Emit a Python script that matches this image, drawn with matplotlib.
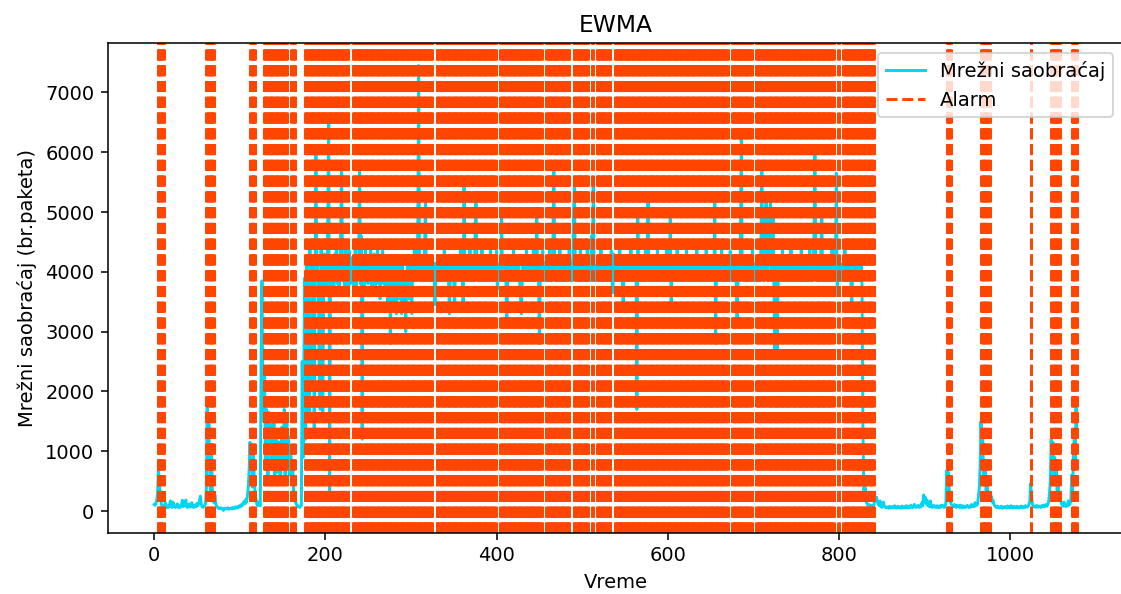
import numpy as np
import matplotlib
matplotlib.use('Agg')
import matplotlib.pyplot as plt

# mrezni saobracaj (br. paketa) po vremenskim trenucima, procitano sa slike
seg_start = [110, 95, 120, 180, 300, 680, 520, 300, 150, 90,
             70, 60, 85, 140, 70, 55, 90, 65, 100, 170,
             80, 60, 150, 95, 70, 60, 80, 120, 70, 55,
             90, 65, 110, 180, 75, 160, 90, 185, 70, 60,
             95, 120, 65, 80, 140, 70, 60, 100, 85, 70,
             130, 90, 110, 170, 250, 110, 75, 60, 80, 95,
             120]
seg_spike1 = [380, 1720, 900, 1450, 600, 250, 1100, 300, 180, 140]
seg_low1 = [270, 120, 80, 60, 45, 50, 40, 55, 35, 40,
            10, 45, 50, 35, 40, 55, 30, 45, 40, 50,
            35, 60, 45, 40, 70, 55, 50, 80, 65, 90,
            70, 110, 95, 130, 160, 120, 190, 150, 260, 400,
            700]
seg_spike2 = [1150, 700, 950, 400, 1000, 550, 300]
seg_rise = [200, 120, 90, 150, 110, 90, 2600, 3850, 1800]
seg_mid = [1500, 2300, 800, 1700, 1300, 600, 1650, 1100, 1450, 900,
           700, 1200, 1500, 550, 1000, 1300, 650, 800, 1150, 500,
           700, 1400, 900, 1200, 1700, 600, 1000, 1500, 800, 1250,
           600, 1100, 900, 450, 700, 300, 200]
seg_low2 = [150, 120, 90, 70, 85, 60, 75, 90]
high_a = [2500, 900, 2600, 3900, 1200, 4200, 2800, 3700, 1500, 4400,
          3300, 2100, 4100, 3600, 1300, 3900, 6000,
          3900, 4200, 3500, 2200, 1700, 4400, 3800, 1600, 3600, 4300,
          3850, 4100, 3700, 5100, 6550, 350, 3900, 4200, 3800, 4100,
          3700, 4300, 3900, 4500, 3800, 4150, 3650, 4100, 4700, 5800,
          4200, 3850, 4100, 3700, 4400, 3900, 4050, 3600, 4350, 3800,
          4150, 3850, 4250, 3700, 4000, 4450, 3750, 4100, 3900, 4300,
          5750, 3800, 4600, 1200, 3900, 4150, 3700, 4400, 3850, 4100,
          3800, 4250, 3900, 4450, 3700, 4100, 3850, 4300, 3600, 4050,
          3800, 4400, 3850, 4100, 3550, 4150, 3850, 4350, 3800, 4100,
          3600, 3900, 4150, 3400, 3850, 4100, 2800, 3900, 4100, 3350,
          3850, 4150, 3850, 3300, 4100, 3850, 3550, 4150, 3850, 3300,
          4100, 3850, 3400, 3850, 3000, 3850, 4150, 3850, 3550, 4100,
          3850, 3300, 4150, 3850, 4400, 3850, 4150, 3850, 4700, 7450,
          4100, 3850, 4150, 3850, 4150, 3850, 4400, 5200, 3850, 4150,
          3850, 4100, 3850, 4150, 3850, 4100, 3850, 4150, 3450, 3850,
          4150, 3850, 4100, 3850]
high_b = [3850, 4150, 3850, 4100, 3850, 4400, 3850, 4150, 3850, 4100,
          3850, 3300, 3850, 4150, 3850, 4100, 3850, 3350, 4150, 3850,
          4100, 3850, 4150, 3850, 4400, 3850, 4100, 3350, 5500, 4150,
          3850, 4100, 3850, 4150, 3850, 4400, 3850, 4100, 3850, 4150,
          3850, 4650, 5200, 4150, 3850, 4100, 3850, 4150, 3850, 4400,
          3850, 4100, 3850, 4150, 3850, 4100, 3850, 4150, 3850, 4400,
          4100, 3850, 4150, 3850, 4100, 3850, 4350, 3700, 4100, 3850,
          4150, 3850, 4950, 3850, 4100, 3850, 4150, 3850, 3100, 3850,
          4150, 3850, 4100, 3850, 4150, 3850, 4400, 3850, 4100, 3850,
          4150, 3850, 4100, 3850, 3600, 3300, 3850, 4150, 3850, 4100,
          3850, 4400, 3850, 4150, 3850, 4100, 3850, 4150, 3850, 4400,
          3850, 4100, 3850, 4950, 3850, 4150, 2800, 3850, 4100, 3850,
          4350, 3850, 4150, 3850, 4100, 3850, 4150, 3850, 4400, 3850,
          4100, 3850, 4600, 5750, 4100, 3850, 4150, 3850, 4100, 3850,
          4400, 3850, 4150, 3850, 4100, 3850, 4150, 3850, 4100, 3850,
          4150, 4400, 3850, 4150, 3850, 4100, 5000, 5480, 4100, 3850,
          4150, 3850, 4100, 3850, 4400, 3850, 4150, 3850, 4100, 3850,
          4150, 3850, 4400, 3850, 4100, 3850, 4150, 4600, 3850, 5480,
          4150, 3850, 4100, 3850, 4150, 3850, 4100, 3850, 4400, 3850,
          4150, 3850, 4100, 3850, 4150, 3850, 4100, 3850, 4150, 3850,
          4350, 3850, 3650, 4300, 4150, 3850, 4100, 3850, 4150, 3850,
          4400, 3850, 4100, 3850, 3350, 4150, 3850, 4100, 3850, 4150,
          3850, 4100, 3850, 4400, 3850, 4150, 3850, 4100, 3850, 4150,
          1700, 4950, 4100, 3850, 4150, 3850, 4100, 3850, 4150, 3850,
          4400, 3850, 4100, 5200, 3850, 4150, 3850, 4100, 3850]
high_c = [3850, 4150, 3850, 4100, 3850, 4400, 3850, 4150, 3850, 4100,
          3850, 4150, 3850, 4100, 3850, 4150, 4400, 3850, 4100, 3850,
          4950, 3350, 4150, 3850, 4100, 3850, 4150, 3850, 4400, 3850,
          4100, 3850, 4150, 3850, 4100, 3850, 4150, 3850, 4100, 4400,
          3850, 4150, 3850, 4100, 3850, 4150, 3850, 4100, 3850, 4150,
          3850, 4400, 3850, 4100, 3850, 4150, 3850, 4100, 3850, 4150,
          3850, 4100, 4400, 3850, 4150, 3850, 4100, 3850, 4150, 3850,
          4100, 3850, 5200, 2800, 4100, 3850, 4150, 3850, 4100, 3850,
          4400, 3850, 4100, 3850, 4150, 3850, 4100, 3850, 4150, 3850,
          4350, 3850, 4100, 3850, 4150, 3850, 4100, 3850, 3100, 3850,
          4150, 3850, 4400, 6300, 4100, 3850, 4150, 3850, 4100, 3850,
          4150, 3850, 4100, 3850, 4150, 3850, 4400, 3850, 4100, 3850,
          4150, 3850, 4100, 3850, 4150, 3850, 4600, 5760, 4100, 3850,
          4150, 4950, 5200, 4100, 3850, 4950, 4150, 5200, 3850, 4100,
          4950, 3850, 2550, 3100, 4150, 2600, 3850, 4100, 3850, 4150,
          3850, 4400, 3850, 4100, 3850, 4150, 3850, 4100, 3850, 4150,
          3850, 4400, 3850, 4100, 3850, 4150, 3850, 4100, 3850, 4150,
          3850, 4100, 3850, 4400, 3850, 4150, 3850, 4100, 3850, 4150,
          3850, 4100, 3850, 4400, 3850, 4150, 3850, 4100, 4700, 6040,
          4100, 3850, 4150, 3850, 4100, 3850, 4400, 4950, 3850, 4150,
          3850, 4100, 3850, 4150, 3850, 4100, 3850, 4150, 3850, 4400,
          3850, 4100, 3850, 4150, 5650, 3600, 4100, 3850, 4150, 3850,
          4100, 3850, 4150, 3850, 4400, 3850, 4100, 3850, 4150, 3850,
          4100, 3850, 3350, 4100, 3850, 4150, 3850, 4100, 3850, 4150,
          3850, 4100, 3850, 4150, 3800, 1500, 350, 400, 380, 150,
          120, 90, 110, 80, 70, 95, 60, 85, 100, 240]
seg_tail1 = [180, 230, 150, 120, 90, 170, 75, 60, 100, 150,
             80, 65, 55, 70, 60, 45, 80, 65, 50, 75,
             60, 55, 90, 70, 50, 65, 80, 55, 60, 70,
             45, 85, 60, 55, 75, 60, 90, 65, 50, 80,
             60, 100, 70, 55, 65, 110, 75, 60, 85, 70,
             95, 60, 80, 70, 140, 90, 270, 150, 230, 120,
             180, 90, 110, 70, 170, 85, 60, 75, 95, 65,
             80, 60, 90, 70, 55, 85, 65, 100, 75, 90,
             60, 80, 140]
seg_spike3 = [680, 420, 650, 300, 180, 120, 100]
seg_tail2 = [90, 70, 110, 80, 60, 95, 75, 85, 60, 100,
             70, 55, 90, 65, 80, 60, 75, 95, 70, 60,
             85, 65, 110, 75, 90, 70, 140, 100, 95, 120,
             250, 380, 760]
seg_spike4 = [1500, 900, 1250, 600, 450, 800, 350, 520, 300, 230, 260]
seg_tail3 = [200, 250, 150, 180, 120, 90, 75, 60, 85, 65,
             50, 70, 60, 80, 45, 65, 55, 75, 60, 50,
             85, 60, 70, 55, 90, 65, 50, 75, 60, 70,
             55, 80, 65, 50, 70, 60, 85, 65, 55, 75,
             60, 90, 70, 65, 80, 110, 160]
seg_spike5 = [460, 250]
seg_tail4 = [120, 90, 70, 80, 60, 95, 75, 65, 85, 70,
             60, 90, 75, 100, 70, 85, 110, 80, 120, 150,
             300, 500]
seg_spike6 = [1200, 800, 1150, 600, 900, 450, 700, 350, 550, 250, 300]
seg_tail5 = [180, 120, 100, 80, 150, 95, 75, 110, 85, 170, 100, 120, 180]
seg_spike7 = [600, 350, 900, 1300, 700, 1720, 1250]

traffic = np.array(seg_start + seg_spike1 + seg_low1 + seg_spike2 + seg_rise
                   + seg_mid + seg_low2 + high_a + high_b + high_c
                   + seg_tail1 + seg_spike3 + seg_tail2 + seg_spike4
                   + seg_tail3 + seg_spike5 + seg_tail4 + seg_spike6
                   + seg_tail5 + seg_spike7)

# trenuci u kojima je EWMA javio alarm (od, do)
alarm_ranges = [(4, 11), (61, 70), (112, 118), (128, 155), (160, 164),
                (176, 227), (232, 325), (330, 399), (404, 453), (458, 485),
                (490, 507), (512, 513), (517, 533), (538, 670), (675, 698),
                (703, 794), (799, 800), (805, 841), (926, 931), (966, 976),
                (1024, 1025), (1048, 1058), (1072, 1078)]
alarms = [i for a, b in alarm_ranges for i in range(a, b + 1)]

fig = plt.figure(figsize=(1121 / 140, 594 / 140), dpi=140)
ax = fig.add_axes([108 / 1121, 61.3 / 594, 1015 / 1121, 489.4 / 594])

ax.plot(np.arange(len(traffic)), traffic, color='#00d5f2', label='Mrežni saobraćaj')
for k, a in enumerate(alarms):
    ax.axvline(x=a, color='orangered', linestyle='--', linewidth=1.53,
               label='Alarm' if k == 0 else None)

ax.set_title('EWMA')
ax.set_xlabel('Vreme')
ax.set_ylabel('Mrežni saobraćaj (br.paketa)')
ax.legend(loc='upper right')
fig.savefig('out.png', dpi=140)
